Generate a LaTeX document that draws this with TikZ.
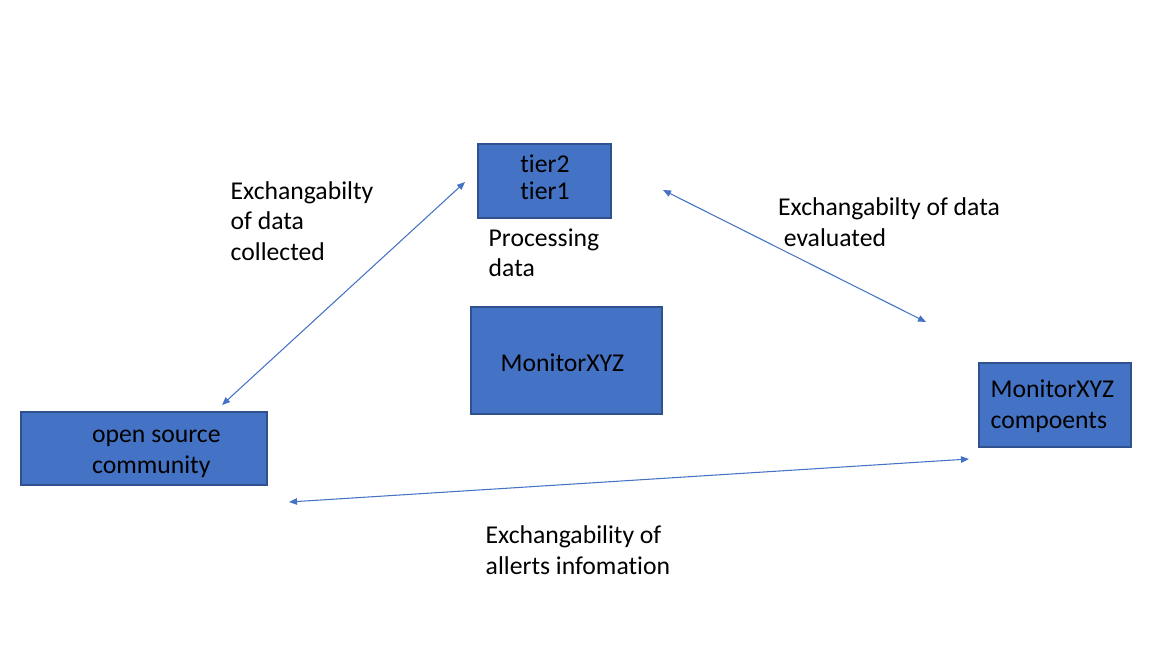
\documentclass[tikz,border=0pt]{standalone}
\usepackage{fontspec}
\setmainfont{Carlito}[Ligatures=NoCommon]
\usetikzlibrary{arrows.meta}
\definecolor{boxblue}{HTML}{4472C4}
\definecolor{boxline}{HTML}{2F528F}
\begin{document}
\begin{tikzpicture}[%
  x=0.01cm,y=-0.01cm,
  block/.style={rectangle,draw=boxline,fill=boxblue,line width=0.4pt,inner sep=0pt},
  lbl/.style={anchor=base west,align=left,inner sep=0pt,
    font=\fontsize{7.3}{8.54}\selectfont},
  link/.style={draw=boxblue,line width=0.3pt,
    {Triangle[length=0.08cm,width=0.065cm]}-{Triangle[length=0.08cm,width=0.065cm]}}]
    \useasboundingbox (0,0) rectangle (1172,654);
    % Boxes
    \node[block,minimum width=1.33cm,minimum height=0.74cm] (tiers) at (544.5,181) {};
    \node[block,minimum width=1.91cm,minimum height=1.07cm] (monitor) at (566.5,360.5) {};
    \node[block,minimum width=1.52cm,minimum height=0.84cm] (comps) at (1055,405) {};
    \node[block,minimum width=2.46cm,minimum height=0.73cm] (oss) at (144,448.5) {};
    % Texts in the boxes (base = last line)
    \node[lbl,anchor=base,align=center,font=\fontsize{7.3}{7.68}\selectfont]
      (tierstext) at (545,199) {tier2\\tier1};
    \node[lbl] (monitortext) at (500,371.5) {MonitorXYZ};
    \node[lbl] (compstext) at (990,428) {MonitorXYZ\\compoents};
    \node[lbl] (osstext) at (91.5,473) {open source\\community};
    % Texts beside
    \node[lbl] (proc) at (488,276.5) {Processing\\data};
    \node[lbl] (collected) at (230,260) {Exchangabilty\\of data\\collected};
    \node[lbl] (evaluated) at (777.5,246) {Exchangabilty of data\\\hspace{1.6pt}evaluated};
    \node[lbl] (alerts) at (485,574) {Exchangability of\\allerts infomation};
    % Arrow ends
    \coordinate (ossup) at (222,405);
    \coordinate (tiersleft) at (465,182);
    \coordinate (tiersright) at (663,190);
    \coordinate (compsup) at (926,322);
    \coordinate (ossright) at (289,502);
    \coordinate (compsleft) at (969,459);
    % Arrows
    \draw[link] (ossup) -- (tiersleft);
    \draw[link] (tiersright) -- (compsup);
    \draw[link] (ossright) -- (compsleft);
\end{tikzpicture}
\end{document}
